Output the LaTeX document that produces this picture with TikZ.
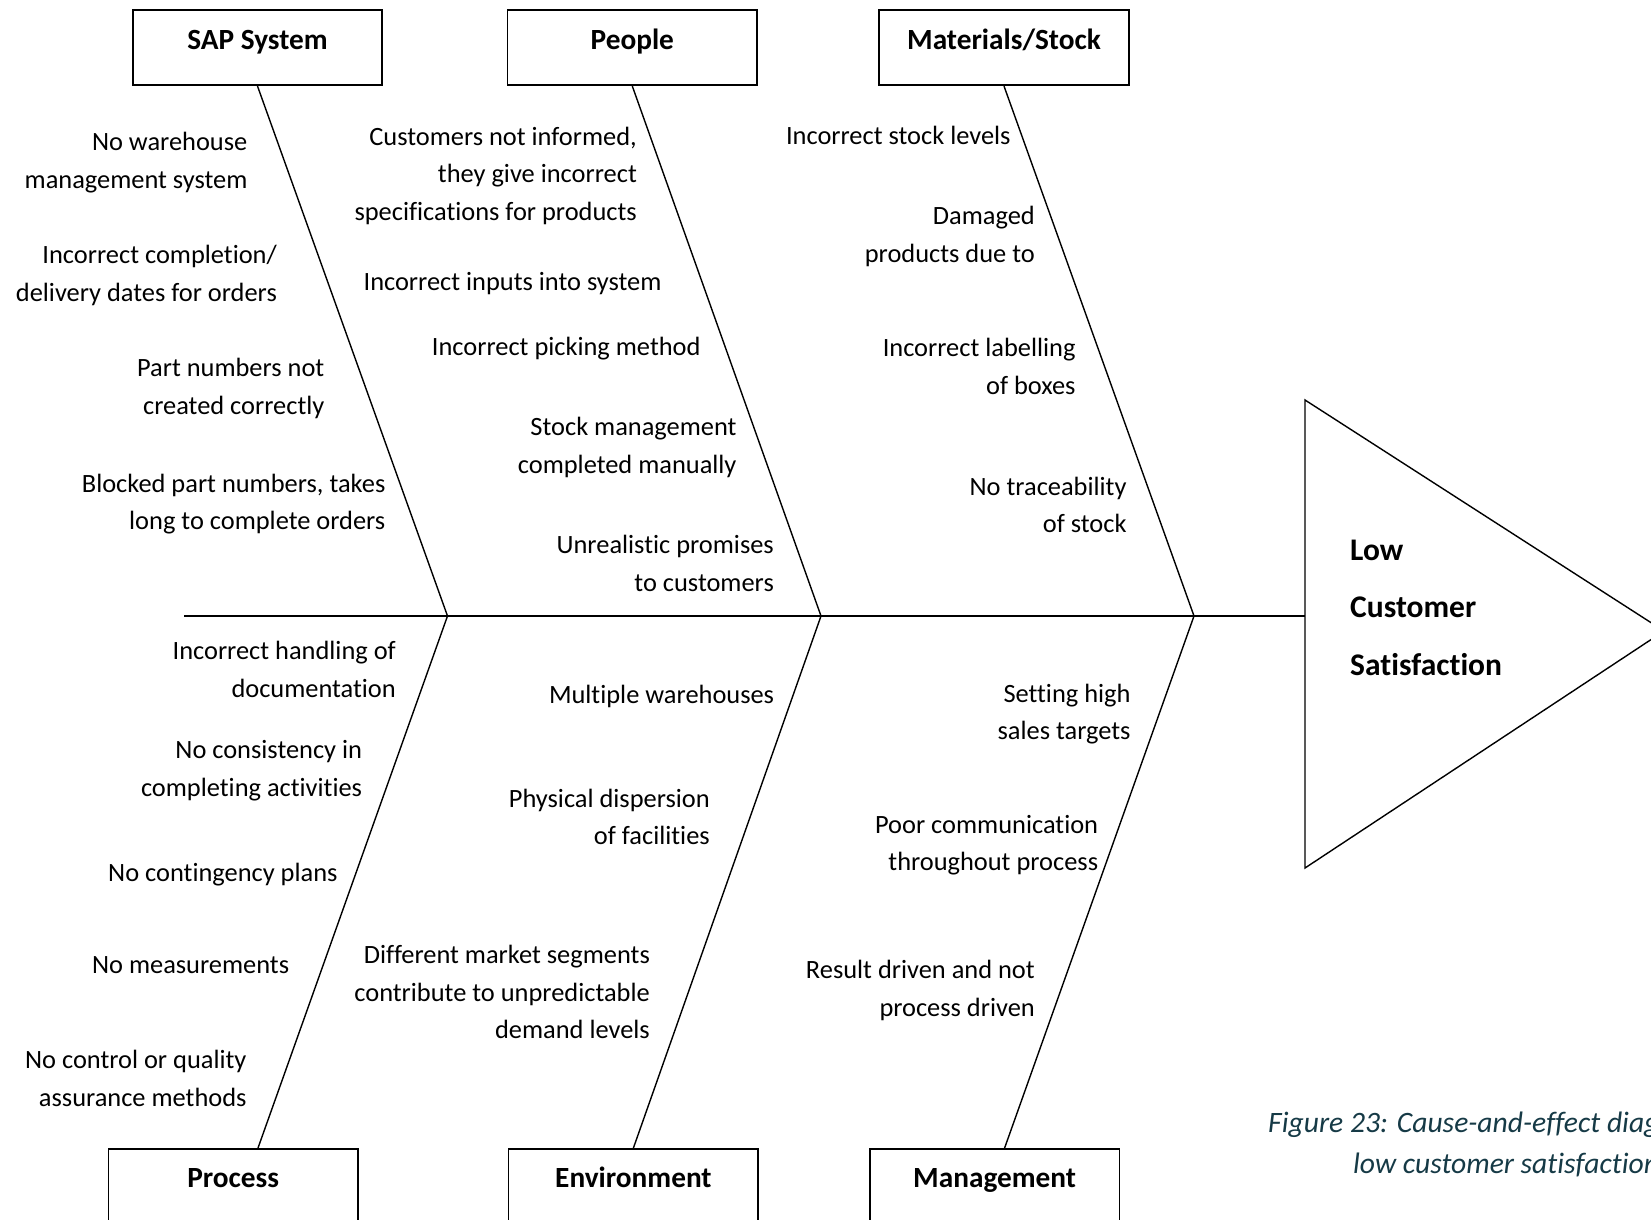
\documentclass[tikz,border=0pt]{standalone}
\usepackage{fontspec}
\setmainfont{Carlito}[Ligatures=NoCommon]
\definecolor{captioncol}{RGB}{22,58,70}
\begin{document}
\begin{tikzpicture}[x=1pt,y=-1pt,
  bone/.style={line width=1.4pt},
  catbox/.style={draw, line width=1.6pt, minimum width=249.5pt, inner sep=0pt,
    text height=39pt, text depth=36pt, align=center,
    font=\bfseries\fontsize{29.3}{35}\selectfont},
  % multi-line texts are placed by the baseline of their last line
  cause/.style={anchor=base east, align=right, inner sep=0pt,
    font=\fontsize{26.4}{37.5}\selectfont},
  effect/.style={anchor=base west, align=left, inner sep=0pt,
    font=\bfseries\fontsize{31.5}{57.5}\selectfont},
  captiontext/.style={anchor=base west, inner sep=0pt, text=captioncol,
    font=\itshape\fontsize{29.6}{42}\selectfont}]
\useasboundingbox (0,0) rectangle (1651,1220);

% category boxes
\node[catbox, anchor=north] (sap)  at (257.5,9.5)  {SAP System};
\node[catbox, anchor=north] (ppl)  at (632.3,9.5)  {People};
\node[catbox, anchor=north] (mat)  at (1004,9.5)   {Materials/Stock};
\node[catbox, anchor=north] (proc) at (233.2,1148) {Process};
\node[catbox, anchor=north] (env)  at (633.4,1148) {Environment};
\node[catbox, anchor=north] (mgt)  at (994.6,1148) {Management};

% spine and junctions
\coordinate (tail) at (184,616);
\coordinate (j1) at (447.5,616);
\coordinate (j2) at (821,616);
\coordinate (j3) at (1194,616);
\coordinate (head) at (1305,616);

% effect triangle
\coordinate (ttop) at (1305,400);
\coordinate (tbot) at (1305,868);
\coordinate (ttip) at (1664,631);
\draw[bone, line join=miter] (ttop) -- (ttip) -- (tbot) -- cycle;

\draw[bone] (tail) -- (j1) -- (j2) -- (j3) -- (head);

% bones
\draw[bone] (sap.south) -- (j1);
\draw[bone] (ppl.south) -- (j2);
\draw[bone] (mat.south) -- (j3);
\draw[bone] (j1) -- ([xshift=24.8pt]proc.north);
\draw[bone] (j2) -- (env.north);
\draw[bone] (j3) -- ([xshift=10pt]mgt.north);

% effect text
\node[effect] (eff) at (1350,675) {Low\\Customer\\Satisfaction};

% SAP System causes
\node[cause] (s1) at (247.5,188) {No warehouse\\management system};
\node[cause] (s2) at (277,301) {Incorrect completion/\\delivery dates for orders};
\node[cause] (s3) at (324.5,414) {Part numbers not\\created correctly};
\node[cause] (s4) at (385.5,529.5) {Blocked part numbers, takes\\long to complete orders};

% People causes
\node[cause] (p1) at (637,220) {Customers not informed,\\they give incorrect\\specifications for products};
\node[cause] (p2) at (661.7,290.5) {Incorrect inputs into system};
\node[cause] (p3) at (700.7,355.5) {Incorrect picking method};
\node[cause] (p4) at (736.7,473) {Stock management\\completed manually};
\node[cause] (p5) at (774,591) {Unrealistic promises\\to customers};

% Materials/Stock causes
\node[cause] (m1) at (1010.7,145) {Incorrect stock levels};
\node[cause] (m2) at (1035,262) {Damaged\\products due to};
\node[cause] (m3) at (1075.7,394) {Incorrect labelling\\of boxes};
\node[cause] (m4) at (1126.7,532.5) {No traceability\\of stock};

% Process causes
\node[cause] (r1) at (396,697) {Incorrect handling of\\documentation};
\node[cause] (r2) at (362.3,796) {No consistency in\\completing activities};
\node[cause] (r3) at (337.7,881) {No contingency plans};
\node[cause] (r4) at (289.3,973.5) {No measurements};
\node[cause] (r5) at (246.7,1106) {No control or quality\\assurance methods};

% Environment causes
\node[cause] (e1) at (774.3,703.5) {Multiple warehouses};
\node[cause] (e2) at (710,844.5) {Physical dispersion\\of facilities};
\node[cause] (e3) at (650,1038.5) {Different market segments\\contribute to unpredictable\\demand levels};

% Management causes
\node[cause] (g1) at (1130.7,739.5) {Setting high\\sales targets};
\node[cause] (g2) at (1098.3,870.5) {Poor communication\\throughout process};
\node[cause] (g3) at (1035,1016) {Result driven and not\\process driven};

% caption
\node[captiontext] (cap1) at (1268,1132.7) {Figure 23: Cause-and-effect diagram for};
\node[captiontext] (cap2) at (1353,1173.5) {low customer satisfaction};
\end{tikzpicture}
\end{document}
